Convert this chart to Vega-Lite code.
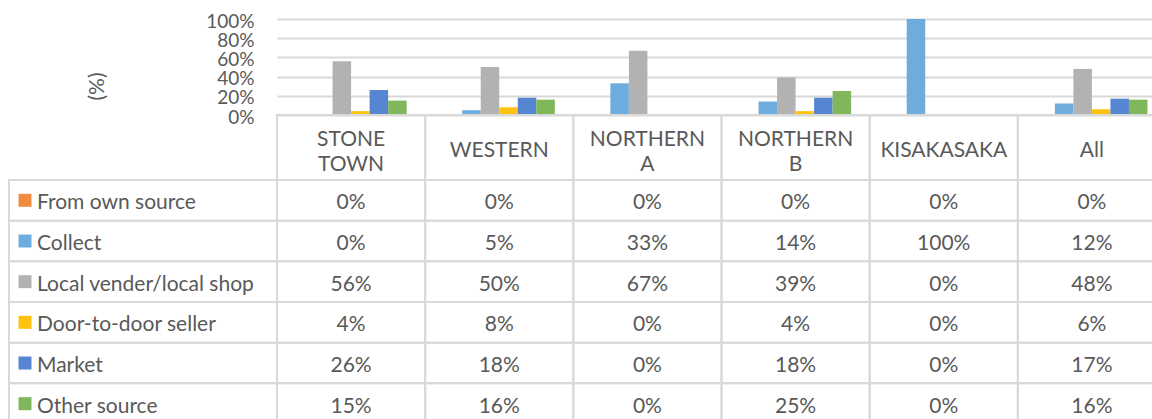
{
  "$schema": "https://vega.github.io/schema/vega-lite/v6.json",
  "padding": {"left": 8, "top": 12, "right": 0, "bottom": 0},
  "config": {"view": {"stroke": null}, "font": "Lato"},
  "datasets": {
    "d": [
      {"region": "STONE TOWN", "source": "From own source", "value": 0},
      {"region": "STONE TOWN", "source": "Collect", "value": 0},
      {"region": "STONE TOWN", "source": "Local vender/local shop", "value": 0.56},
      {"region": "STONE TOWN", "source": "Door-to-door seller", "value": 0.04},
      {"region": "STONE TOWN", "source": "Market", "value": 0.26},
      {"region": "STONE TOWN", "source": "Other source", "value": 0.15},
      {"region": "WESTERN", "source": "From own source", "value": 0},
      {"region": "WESTERN", "source": "Collect", "value": 0.05},
      {"region": "WESTERN", "source": "Local vender/local shop", "value": 0.50},
      {"region": "WESTERN", "source": "Door-to-door seller", "value": 0.08},
      {"region": "WESTERN", "source": "Market", "value": 0.18},
      {"region": "WESTERN", "source": "Other source", "value": 0.16},
      {"region": "NORTHERN A", "source": "From own source", "value": 0},
      {"region": "NORTHERN A", "source": "Collect", "value": 0.33},
      {"region": "NORTHERN A", "source": "Local vender/local shop", "value": 0.67},
      {"region": "NORTHERN A", "source": "Door-to-door seller", "value": 0},
      {"region": "NORTHERN A", "source": "Market", "value": 0},
      {"region": "NORTHERN A", "source": "Other source", "value": 0},
      {"region": "NORTHERN B", "source": "From own source", "value": 0},
      {"region": "NORTHERN B", "source": "Collect", "value": 0.14},
      {"region": "NORTHERN B", "source": "Local vender/local shop", "value": 0.39},
      {"region": "NORTHERN B", "source": "Door-to-door seller", "value": 0.04},
      {"region": "NORTHERN B", "source": "Market", "value": 0.18},
      {"region": "NORTHERN B", "source": "Other source", "value": 0.25},
      {"region": "KISAKASAKA", "source": "From own source", "value": 0},
      {"region": "KISAKASAKA", "source": "Collect", "value": 1.0},
      {"region": "KISAKASAKA", "source": "Local vender/local shop", "value": 0},
      {"region": "KISAKASAKA", "source": "Door-to-door seller", "value": 0},
      {"region": "KISAKASAKA", "source": "Market", "value": 0},
      {"region": "KISAKASAKA", "source": "Other source", "value": 0},
      {"region": "All", "source": "From own source", "value": 0},
      {"region": "All", "source": "Collect", "value": 0.12},
      {"region": "All", "source": "Local vender/local shop", "value": 0.48},
      {"region": "All", "source": "Door-to-door seller", "value": 0.06},
      {"region": "All", "source": "Market", "value": 0.17},
      {"region": "All", "source": "Other source", "value": 0.16}
    ]
  },
  "columns": 2,
  "spacing": 0,
  "bounds": "flush",
  "align": "each",
  "concat": [
    {
      "width": 268, "height": 96,
      "data": {"values": [{}]},
      "mark": {"type": "text", "text": ""}
    },
    {
      "width": 889, "height": 96,
      "data": {"name": "d"},
      "mark": {"type": "bar"},
      "encoding": {
        "x": {"field": "region", "type": "nominal",
              "sort": ["STONE TOWN", "WESTERN", "NORTHERN A", "NORTHERN B", "KISAKASAKA", "All"],
              "scale": {"paddingInner": 0, "paddingOuter": 0}, "axis": null},
        "xOffset": {"field": "source", "type": "nominal",
              "sort": ["From own source", "Collect", "Local vender/local shop", "Door-to-door seller", "Market", "Other source"],
              "scale": {"paddingInner": 0, "paddingOuter": 1.283}},
        "y": {"field": "value", "type": "quantitative", "scale": {"domain": [0, 1]},
              "axis": {"values": [0, 0.2, 0.4, 0.6, 0.8, 1], "format": ".0%", "title": "(%)",
                       "domain": false, "ticks": false, "grid": true, "gridColor": "#D9D9D9", "gridWidth": 2,
                       "labelFont": "Lato", "labelFontSize": 19, "labelColor": "#595959", "labelPadding": 23,
                       "labelOffset": 2,
                       "labelOverlap": false, "labelFlush": false, "labelBound": false,
                       "titleFont": "Lato", "titleFontSize": 21, "titleFontWeight": "normal", "titleColor": "#595959",
                       "titleX": -180, "titleY": 67, "titleAngle": -90, "titleBaseline": "middle", "titleAlign": "center"}},
        "color": {"field": "source", "type": "nominal",
              "scale": {"domain": ["From own source", "Collect", "Local vender/local shop", "Door-to-door seller", "Market", "Other source"],
                        "range": ["#F08C40", "#6EACDE", "#B2B2B2", "#FFC20E", "#5686D1", "#80B75B"]},
              "legend": null}
      }
    },
    {
      "width": 268, "height": 65,
      "data": {"values": [{}]},
      "mark": {"type": "text", "text": ""}
    },
    {
      "width": 889, "height": 65,
      "data": {"name": "d"},
      "transform": [{"aggregate": [{"op": "count", "as": "n"}], "groupby": ["region"]}],
      "encoding": {
        "x": {"field": "region", "type": "nominal",
              "sort": ["STONE TOWN", "WESTERN", "NORTHERN A", "NORTHERN B", "KISAKASAKA", "All"],
              "scale": {"paddingInner": 0, "paddingOuter": 0}, "axis": null}
      },
      "layer": [
        {"mark": {"type": "rect", "fill": "transparent", "stroke": "#D9D9D9", "strokeWidth": 2}},
        {"transform": [{"filter": "indexof(datum.region, ' ') >= 0"}],
         "mark": {"type": "text", "lineBreak": " ", "lineHeight": 25, "fontSize": 21, "font": "Lato", "color": "#595959", "dy": -8},
         "encoding": {"text": {"field": "region"}}},
        {"transform": [{"filter": "indexof(datum.region, ' ') < 0"}],
         "mark": {"type": "text", "fontSize": 21, "font": "Lato", "color": "#595959", "dy": 3},
         "encoding": {"text": {"field": "region"}}}
      ]
    },
    {
      "width": 268, "height": 244,
      "data": {"name": "d"},
      "transform": [{"aggregate": [{"op": "count", "as": "n"}], "groupby": ["source"]}],
      "encoding": {
        "y": {"field": "source", "type": "nominal",
              "sort": ["From own source", "Collect", "Local vender/local shop", "Door-to-door seller", "Market", "Other source"],
              "scale": {"paddingInner": 0, "paddingOuter": 0}, "axis": null}
      },
      "layer": [
        {"mark": {"type": "rect", "fill": "transparent", "stroke": "#D9D9D9", "strokeWidth": 2}},
        {"mark": {"type": "square", "size": 169, "filled": true, "opacity": 1, "xOffset": 16},
         "encoding": {"x": {"value": 0},
                      "color": {"field": "source", "type": "nominal",
                                "scale": {"domain": ["From own source", "Collect", "Local vender/local shop", "Door-to-door seller", "Market", "Other source"],
                                          "range": ["#F08C40", "#6EACDE", "#B2B2B2", "#FFC20E", "#5686D1", "#80B75B"]},
                                "legend": null}}},
        {"mark": {"type": "text", "align": "left", "dx": 28, "dy": 3, "fontSize": 21, "font": "Lato", "color": "#595959"},
         "encoding": {"x": {"value": 0}, "text": {"field": "source"}}}
      ]
    },
    {
      "width": 889, "height": 244,
      "data": {"name": "d"},
      "encoding": {
        "x": {"field": "region", "type": "nominal",
              "sort": ["STONE TOWN", "WESTERN", "NORTHERN A", "NORTHERN B", "KISAKASAKA", "All"],
              "scale": {"paddingInner": 0, "paddingOuter": 0}, "axis": null},
        "y": {"field": "source", "type": "nominal",
              "sort": ["From own source", "Collect", "Local vender/local shop", "Door-to-door seller", "Market", "Other source"],
              "scale": {"paddingInner": 0, "paddingOuter": 0}, "axis": null}
      },
      "layer": [
        {"mark": {"type": "rect", "fill": "transparent", "stroke": "#D9D9D9", "strokeWidth": 2}},
        {"mark": {"type": "text", "fontSize": 21, "font": "Lato", "color": "#595959", "dy": 3},
         "encoding": {"text": {"field": "value", "type": "quantitative", "format": ".0%"}}}
      ]
    }
  ]
}
